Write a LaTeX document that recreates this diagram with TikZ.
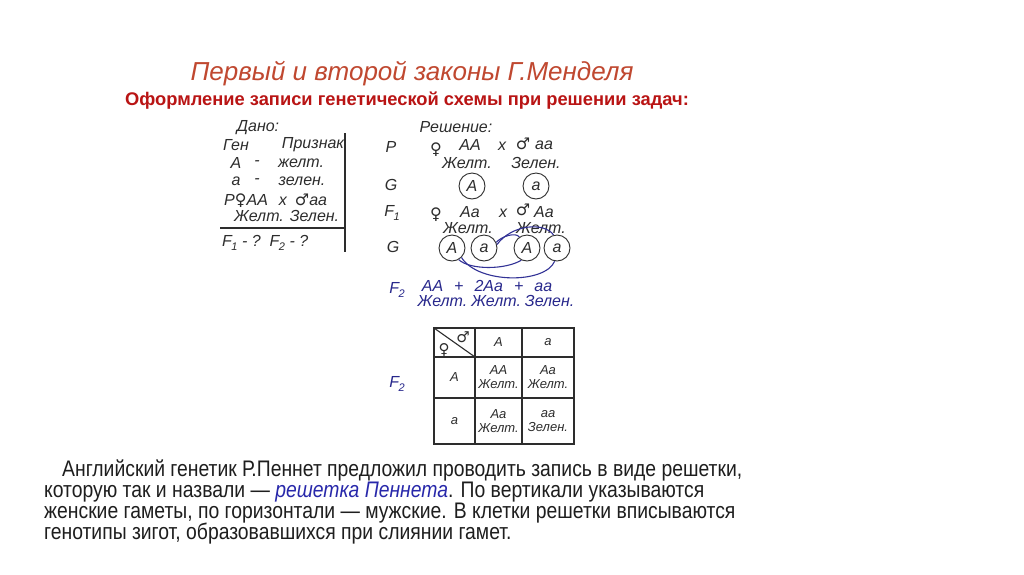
\documentclass[tikz,border=0pt]{standalone}
\usepackage{fontspec}
\setmainfont{Liberation Sans}
\newfontfamily\narrowfont[FakeStretch=0.86]{Liberation Sans}
\newfontfamily\symfont{DejaVu Sans}
\definecolor{titlered}{RGB}{192,72,48}
\definecolor{subred}{RGB}{185,20,20}
\definecolor{dgray}{RGB}{45,45,45}
\definecolor{gblue}{RGB}{40,40,140}
\definecolor{curveblue}{RGB}{50,50,150}
\definecolor{ptext}{RGB}{30,30,30}
\definecolor{plink}{RGB}{40,40,170}
\newcommand\fem{{\symfont ♀}}
\newcommand\mal{{\symfont ♂}}
\newcommand\subF[1]{F\kern-0.5pt\raisebox{-4pt}{\fontsize{11}{11}\selectfont #1}}
\tikzset{
  txt/.style={inner sep=0pt, font=\fontsize{16}{18}\selectfont\itshape, text=dgray},
  btxt/.style={txt, text=gblue},
  bigsym/.style={inner sep=0pt, font=\symfont\fontsize{16}{16}\selectfont, text=dgray},
  gam/.style={circle, draw=dgray, line width=0.9pt, minimum size=26pt, inner sep=0pt,
    font=\fontsize{16}{18}\selectfont\itshape, text=dgray},
  para/.style={anchor=base west, inner sep=0pt, font=\narrowfont\fontsize{22.5}{24}\selectfont, text=ptext},
  link/.style={draw=curveblue, line width=1.1pt},
  rule/.style={draw=dgray, line width=1.3pt},
  gridline/.style={draw=dgray, line width=1.1pt},
  cell/.style={inner sep=0pt, align=center, font=\fontsize{13}{14}\selectfont\itshape, text=dgray},
  gsym/.style={inner sep=0pt, font=\symfont\fontsize{15}{15}\selectfont, text=dgray},
}
\begin{document}
\begin{tikzpicture}[x=1pt,y=-1pt]
\useasboundingbox[fill=white] (0,0) rectangle (1024,574);
% titles
\node[inner sep=0pt, font=\fontsize{26}{29}\selectfont\itshape, text=titlered] (title) at (412,74) {Первый и второй законы Г.Менделя};
\node[inner sep=0pt, font=\fontsize{18.3}{21}\selectfont\bfseries, text=subred] (subtitle) at (407,101) {Оформление записи генетической схемы при решении задач:};
% Dano block
\node[txt] (dano) at (258,128) {Дано:};
\node[txt] (gen) at (236,145) {Ген};
\node[txt] (priz) at (313,145) {Признак};
\node[txt] (A1) at (236,163) {А};
\node[txt] (d1) at (257,163) {-};
\node[txt] (zh1) at (301,163) {желт.};
\node[txt] (a1) at (236,181) {а};
\node[txt] (d2) at (257,181) {-};
\node[txt] (ze1) at (302,181) {зелен.};
\node[txt, anchor=west] (pcross) at (224,201) {Р\fem АА\hspace{11pt}х\hspace{8pt}\mal аа};
\node[txt, anchor=west] (pphen) at (234,216) {Желт. Зелен.};
\node[txt, anchor=west] (quest) at (222,243) {\subF{1} - ?\hspace{9pt}\subF{2} - ?};
\coordinate (vt) at (345,133);
\coordinate (vb) at (345,252);
\coordinate (hl) at (220,228);
\coordinate (hr) at (345,228);
\draw[rule] (vt) -- (vb);
\draw[rule] (hl) -- (hr);
% Solution
\node[txt] (resh) at (456,127) {Решение:};
\node[txt] (P) at (391,147) {P};
\node[bigsym] (fem1) at (436,150) {♀};
\node[txt] (AA1) at (470,145) {АА};
\node[txt] (x1) at (502,146) {х};
\node[bigsym] (mal1) at (523,144) {♂};
\node[txt] (aa1) at (544,145) {аа};
\node[txt] (zh2) at (467,163) {Желт.};
\node[txt] (ze2) at (536,163) {Зелен.};
\node[txt] (G1) at (391,185) {G};
\node[gam] (pg1) at (472,186) {A};
\node[gam] (pg2) at (536,186) {a};
\node[txt] (F1) at (392,213) {\subF{1}};
\node[bigsym] (fem2) at (436,215) {♀};
\node[txt] (Aa1) at (470,212) {Аа};
\node[txt] (x2) at (503,213) {х};
\node[bigsym] (mal2) at (523,210) {♂};
\node[txt] (Aa2) at (544,212) {Аа};
\node[txt] (zh3) at (468,228) {Желт.};
\node[txt] (zh4) at (541,228) {Желт.};
\node[txt] (G2) at (393,247) {G};
\node[gam] (g1) at (452,248) {A};
\node[gam] (g2) at (484,248) {a};
\node[gam] (g3) at (527,248) {A};
\node[gam] (g4) at (557,248) {a};
\draw[link] (g2.25) .. controls (502,236) and (516,232) .. (g3.125);
\draw[link] (g2.15) .. controls (512,224) and (545,222) .. (g4.105);
\draw[link] (g1.-60) .. controls (470,270) and (505,270) .. (g3.-115);
\draw[link] (g1.-45) .. controls (478,284) and (545,284) .. (g4.-100);
% F2 result
\node[btxt] (F2a) at (397,290) {\subF{2}};
\node[btxt] (res) at (487,286) {АА\hspace{11pt}+\hspace{11pt}2Аа\hspace{11pt}+\hspace{11pt}аа};
\node[btxt] (resph) at (496,301) {Желт.\hspace{4pt}Желт.\hspace{4pt}Зелен.};
% Punnett grid
\node[btxt] (F2b) at (397,384) {\subF{2}};
\coordinate (gtl) at (434,328);
\coordinate (gbr) at (574,444);
\draw[gridline] (gtl) rectangle (gbr);
\draw[gridline] (475,328) -- (475,444);
\draw[gridline] (522,328) -- (522,444);
\draw[gridline] (434,357) -- (574,357);
\draw[gridline] (434,398) -- (574,398);
\draw[gridline] (gtl) -- (475,357);
\node[gsym] (cm) at (463,337) {♂};
\node[gsym] (cf) at (444,350) {♀};
\node[cell] (hA) at (498.5,342.5) {А};
\node[cell] (ha) at (548,342.5) {а};
\node[cell] (vA) at (454.5,377.5) {А};
\node[cell] (va) at (454.5,421) {а};
\node[cell] (c11) at (498.5,377.5) {АА\\Желт.};
\node[cell] (c12) at (548,377.5) {Аа\\Желт.};
\node[cell] (c21) at (498.5,421) {Аа\\Желт.};
\node[cell] (c22) at (548,421) {аа\\Зелен.};
% paragraph
\node[para] (p1) at (62,476) {Английский генетик Р.Пеннет предложил проводить запись в виде решетки,};
\node[para] (p2) at (44,497) {которую так и назвали — {\color{plink}\itshape решетка Пеннета}. По вертикали указываются};
\node[para] (p3) at (44,518) {женские гаметы, по горизонтали — мужские. В клетки решетки вписываются};
\node[para] (p4) at (44,539) {генотипы зигот, образовавшихся при слиянии гамет.};
\end{tikzpicture}
\end{document}
